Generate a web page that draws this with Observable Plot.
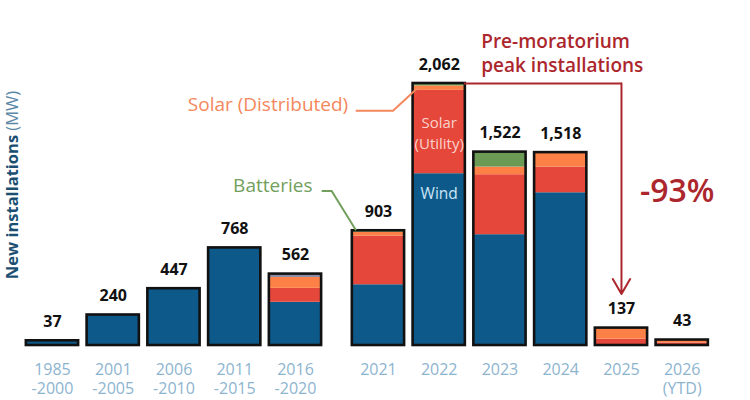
<!DOCTYPE html>
<html>
<head>
<meta charset="utf-8">
<script src="https://cdn.jsdelivr.net/npm/d3@7"></script>
<script src="https://cdn.jsdelivr.net/npm/@observablehq/plot@0.6"></script>
<style>
  body { margin: 0; background: #fff; font-family: "Open Sans", sans-serif; }
</style>
</head>
<body>
<div id="chart"></div>
<script>
// Periods on the x axis (multi-year bins first, then single years)
const periods = ["1985\n-2000", "2001\n-2005", "2006\n-2010", "2011\n-2015", "2016\n-2020",
                 "2021", "2022", "2023", "2024", "2025", "2026\n(YTD)"];

// New installations by technology, MW
const wind             = [37, 240, 447, 768, 340, 478, 1352, 872, 1202, 0, 0];
const solarUtility     = [0, 0, 0, 0, 110, 383, 656, 472, 202, 50, 20];
const solarDistributed = [0, 0, 0, 0, 85, 30, 35, 60, 114, 87, 23];
const batteries        = [0, 0, 0, 0, 0, 12, 19, 118, 0, 0, 0];
const other            = [0, 0, 0, 0, 27, 0, 0, 0, 0, 0, 0];

// Stated totals per period, MW
const totals = [37, 240, 447, 768, 562, 903, 2062, 1522, 1518, 137, 43];

const series = [
  {name: "Wind", values: wind, color: "#0d5a8a"},
  {name: "Solar (Utility)", values: solarUtility, color: "#e5473b"},
  {name: "Solar (Distributed)", values: solarDistributed, color: "#fd8147"},
  {name: "Batteries", values: batteries, color: "#6b9a55"},
  {name: "Other", values: other, color: "#8d8ea5"}
];

const RED = "#ac272d";

// Horizontal slots: a wider gap separates the multi-year bins from the single years
const firstSingleYear = periods.indexOf("2021");
const gap = 0.366, half = 0.43;
const slot = i => i + (i >= firstSingleYear ? gap : 0);

const bars = periods.map((label, i) => ({i, label, x: slot(i), total: totals[i]}));

// Stack the technology segments bottom-up
const segments = [];
bars.forEach((b, i) => {
  let base = 0;
  for (const s of series) {
    const v = s.values[i];
    if (v > 0) {
      segments.push({x1: b.x - half, x2: b.x + half, y1: base, y2: base + v, fill: s.color, name: s.name});
      base += v;
    }
  }
});

const iPeak = totals.indexOf(d3.max(totals));
const peak = bars[iPeak];
const drop = bars[periods.indexOf("2025")];
const first2021 = bars[firstSingleYear];
const last = bars[bars.length - 1];

const plot = Plot.plot({
  width: 750,
  height: 400,
  marginTop: 83,
  marginBottom: 55,
  marginLeft: 21.6,
  marginRight: 37.9,
  x: {domain: [-0.5, slot(periods.length - 1) + 0.5], axis: null},
  y: {domain: [0, d3.max(totals)], axis: null},
  color: {type: "identity"},
  style: {fontFamily: "'Open Sans', sans-serif", background: "#fff", overflow: "visible"},
  marks: [
    Plot.rectY(segments, {x1: "x1", x2: "x2", y1: "y1", y2: "y2", fill: "fill"}),
    Plot.rectY(bars, {x1: d => d.x - half, x2: d => d.x + half, y1: 0, y2: "total",
                      fill: "none", stroke: "#111", strokeWidth: 2.6}),
    // value labels
    Plot.text(bars, {x: "x", y: "total", text: d => d3.format(",")(d.total), dy: -19,
                     fontSize: 16, fontWeight: 700, fill: "#111"}),
    // period labels
    Plot.text(bars, {x: "x", y: 0, text: "label", lineAnchor: "top", dy: 16, lineHeight: 1.2,
                     fontSize: 16, fill: "#8db4cf"}),
    // in-bar labels
    Plot.text([peak], {x: "x", y: d => wind[d.i] + solarUtility[d.i] / 2, text: () => "Solar\n(Utility)",
                       fontSize: 15, lineHeight: 1.4, fill: "#fbd2ca"}),
    Plot.text([peak], {x: "x", y: d => wind[d.i], text: () => "Wind", dy: 20,
                       fontSize: 15.5, fill: "#cbe6f7"}),
    // series call-outs
    Plot.text([peak], {x: "x", y: "total", text: () => "Solar (Distributed)", dx: -91, dy: 21,
                       textAnchor: "end", fontSize: 19, fill: "#f4875c"}),
    Plot.text([first2021], {x: "x", y: "total", text: () => "Batteries", dx: -66, dy: -45,
                            textAnchor: "end", fontSize: 19, fill: "#72a05c"}),
    // peak-to-2025 drop
    Plot.text([peak], {x: "x", y: "total", text: () => "Pre-moratorium\npeak installations",
                       dx: 42, dy: -12, lineAnchor: "bottom", lineHeight: 1.25, textAnchor: "start",
                       fontSize: 19, fontWeight: 600, fill: RED}),
    Plot.ruleY([peak.total], {x1: peak.x + half, x2: drop.x, stroke: RED, strokeWidth: 2,
                              strokeLinecap: "square"}),
    Plot.arrow([drop], {x1: "x", y1: peak.total, x2: "x", y2: "total", insetEnd: 34,
                        stroke: RED, strokeWidth: 2, headLength: 13, headAngle: 60}),
    Plot.text([last], {x: "x", y: peak.total, text: () => "-93%", dx: -5, dy: 108,
                       fontSize: 32, fontWeight: 600, fill: RED})
  ]
});

document.getElementById("chart").appendChild(plot);

// Leader lines from the call-outs to their segments, and the y-axis title
const sx = plot.scale("x"), sy = plot.scale("y");
const svg = d3.select(plot);
const leader = (b, pts, color) => {
  const ox = sx.apply(b.x), oy = sy.apply(b.total);
  svg.append("path")
    .attr("d", d3.line()(pts.map(([dx, dy]) => [ox + dx, oy + dy])))
    .attr("fill", "none").attr("stroke", color).attr("stroke-width", 2);
};
leader(peak, [[-83, 27.7], [-45.7, 27.7], [-20, 4]], "#f4875c");
leader(first2021, [[-56.3, -39.3], [-46.3, -39.3], [-22, 0]], "#72a05c");

const yTitle = svg.append("text")
  .attr("transform", "translate(11,185) rotate(-90)")
  .attr("text-anchor", "middle")
  .attr("dominant-baseline", "central")
  .style("font-family", "'Open Sans', sans-serif")
  .style("font-size", "16.5px");
yTitle.append("tspan").attr("font-weight", 700).attr("fill", "#1b4f72").text("New installations ");
yTitle.append("tspan").attr("fill", "#5a87a6").text("(MW)");
</script>
</body>
</html>
